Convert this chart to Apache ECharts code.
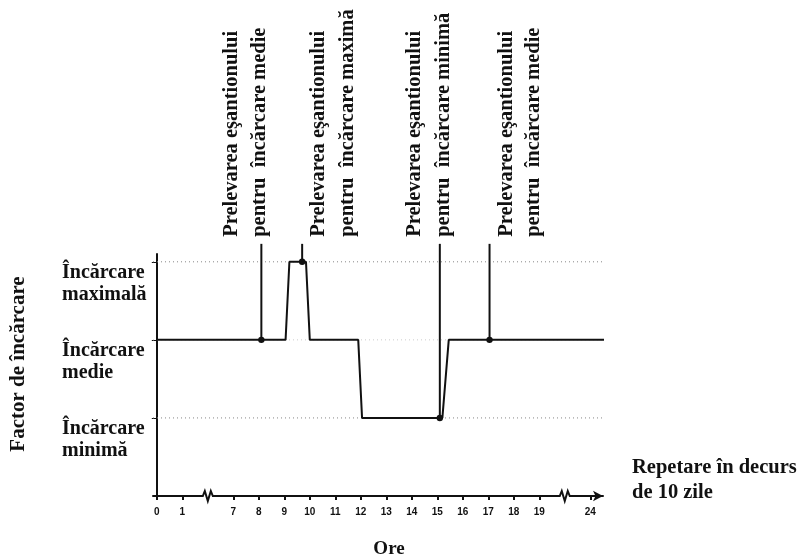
<!DOCTYPE html>
<html>
<head>
<meta charset="utf-8">
<script src="https://cdn.jsdelivr.net/npm/echarts@6/dist/echarts.min.js"></script>
<style>
  html, body { margin: 0; padding: 0; background: #fff; }
  #chart { width: 799px; height: 558px; }
</style>
</head>
<body>
<div id="chart"></div>
<script>
// ---- data ----
const tickHours = [0, 1, 7, 8, 9, 10, 11, 12, 13, 14, 15, 16, 17, 18, 19, 24];
const tickLabels = ['0', '1', '7', '8', '9', '10', '11', '12', '13', '14', '15', '16', '17', '18', '19', '24'];
const loadLevels = [1, 2, 3];
const levelLabels = ['Încărcare\nminimă', 'Încărcare\nmedie', 'Încărcare\nmaximală'];
const profileHours = [0, 9.05, 9.2, 9.85, 10.0, 11.9, 12.05, 15.2, 15.45, 26];
const profileLoad  = [2, 2, 3, 3, 2, 2, 1, 1, 2, 2];
const sampleHours = [8.1, 9.7, 15.1, 17.05];
const sampleLoad  = [2, 3, 1, 2];
const sampleTexts = [
  ['Prelevarea eşantionului', 'pentru  încărcare medie'],
  ['Prelevarea eşantionului', 'pentru  încărcare maximă'],
  ['Prelevarea eşantionului', 'pentru  încărcare minimă'],
  ['Prelevarea eşantionului', 'pentru  încărcare medie']
];
const breakHours = [4, 21.5];
const xName = 'Ore';
const yName = 'Factor de încărcare';
const noteText = 'Repetare în decurs\nde 10 zile';

// ---- broken time axis: hours -> axis position ----
function pos(h) {
  if (h <= 1) return h;
  if (h <= 7) return 1 + (h - 1) * 2 / 6;
  if (h <= 19) return h - 4;
  return 15 + (h - 19) * 2 / 5;
}
const tickPos = tickHours.map(pos);

// pixel offsets of the two text columns relative to each sampling line
const textCols = [[-30, -2], [17, 46], [-25, 4], [17, 44]];
const lineTopLevel = 3.23;

const ink = '#111';
const serif = '"Liberation Serif", "DejaVu Serif", serif';

const chart = echarts.init(document.getElementById('chart'), null, { renderer: 'canvas' });

const xMin = -0.15;
const endPos = pos(profileHours[profileHours.length - 1]);

const refSeries = loadLevels.map((lv, i) => ({
  type: 'line',
  silent: true,
  symbol: 'none',
  clip: false,
  z: 1,
  lineStyle: { color: i === 1 ? '#ccc' : '#888', width: 1, type: [1, 3] },
  data: [[xMin, lv], [endPos, lv]]
}));

chart.setOption({
  animation: false,
  backgroundColor: '#fff',
  grid: { left: 153, right: 196, top: 254, bottom: 62, containLabel: false, outerBoundsMode: 'none' },
  xAxis: {
    type: 'value',
    min: xMin,
    max: 17.5,
    name: xName,
    nameLocation: 'middle',
    nameGap: 44,
    nameTextStyle: { fontFamily: serif, fontWeight: 'bold', fontSize: 19, color: ink, padding: [0, 0, 0, 22] },
    axisLine: {
      onZero: false,
      symbol: ['none', 'arrow'],
      symbolSize: [8, 10],
      lineStyle: { color: ink, width: 2 }
    },
    axisTick: { customValues: tickPos, length: 4, lineStyle: { color: ink, width: 2 } },
    axisLabel: {
      customValues: tickPos,
      margin: 11,
      fontFamily: '"Liberation Sans", Arial, sans-serif',
      fontWeight: 'bold',
      fontSize: 10,
      color: ink,
      formatter: v => {
        const i = tickPos.findIndex(p => Math.abs(p - v) < 1e-6);
        return i >= 0 ? tickLabels[i] : '';
      }
    },
    splitLine: { show: false }
  },
  yAxis: {
    type: 'value',
    min: 0,
    max: 3.1,
    name: yName,
    nameLocation: 'middle',
    nameRotate: 90,
    nameGap: 124,
    nameTextStyle: { fontFamily: serif, fontWeight: 'bold', fontSize: 21, color: ink, padding: [0, 0, 0, 22] },
    axisLine: { onZero: true, lineStyle: { color: ink, width: 2 } },
    axisTick: { customValues: loadLevels, length: 5, lineStyle: { color: ink, width: 1 } },
    axisLabel: {
      customValues: loadLevels,
      margin: 91,
      align: 'left',
      verticalAlign: 'top',
      fontFamily: serif,
      fontWeight: 'bold',
      fontSize: 20,
      lineHeight: 22,
      color: ink,
      formatter: v => {
        const i = loadLevels.indexOf(v);
        return i >= 0 ? levelLabels[i] : '';
      }
    },
    splitLine: { show: false }
  },
  graphic: [{
    type: 'text',
    left: 632,
    top: 455,
    style: {
      text: noteText,
      font: 'bold 20.5px ' + serif,
      lineHeight: 25,
      fill: ink
    }
  }],
  series: [
    ...refSeries,
    {
      type: 'line',
      name: 'profil',
      symbol: 'none',
      clip: false,
      z: 3,
      lineStyle: { color: ink, width: 2 },
      data: profileHours.map((h, i) => [pos(h), profileLoad[i]])
    },
    {
      type: 'custom',
      name: 'prelevare',
      clip: false,
      z: 4,
      renderItem: (params, api) => {
        const i = api.value(2);
        const p0 = api.coord([api.value(0), api.value(1)]);
        const p1 = api.coord([api.value(0), lineTopLevel]);
        const cols = textCols[i];
        const txt = sampleTexts[i];
        const children = [
          { type: 'line', shape: { x1: p0[0], y1: p0[1], x2: p1[0], y2: p1[1] }, style: { stroke: ink, lineWidth: 2 } },
          { type: 'circle', shape: { cx: p0[0], cy: p0[1], r: 3.2 }, style: { fill: ink } }
        ];
        txt.forEach((t, k) => {
          children.push({
            type: 'text',
            x: p0[0] + cols[k],
            y: p1[1] - 7,
            rotation: Math.PI / 2,
            style: {
              text: t,
              font: 'bold 20.5px ' + serif,
              fill: ink,
              align: 'left',
              verticalAlign: 'middle'
            }
          });
        });
        return { type: 'group', children };
      },
      data: sampleHours.map((h, i) => [pos(h), sampleLoad[i], i])
    },
    {
      type: 'custom',
      name: 'rupturi',
      clip: false,
      z: 5,
      silent: true,
      renderItem: (params, api) => {
        const c = api.coord([api.value(0), 0]);
        const pts = [[-8, 0], [-5, 0], [-3, -5], [0, 5], [3, -5], [5, 0], [8, 0]].map(p => [c[0] + p[0], c[1] + p[1]]);
        return {
          type: 'group',
          children: [
            { type: 'rect', shape: { x: c[0] - 7, y: c[1] - 2, width: 14, height: 4 }, style: { fill: '#fff' } },
            { type: 'polyline', shape: { points: pts }, style: { stroke: ink, lineWidth: 2, fill: null } }
          ]
        };
      },
      data: breakHours.map(h => [pos(h), 0])
    }
  ]
});
</script>
</body>
</html>
